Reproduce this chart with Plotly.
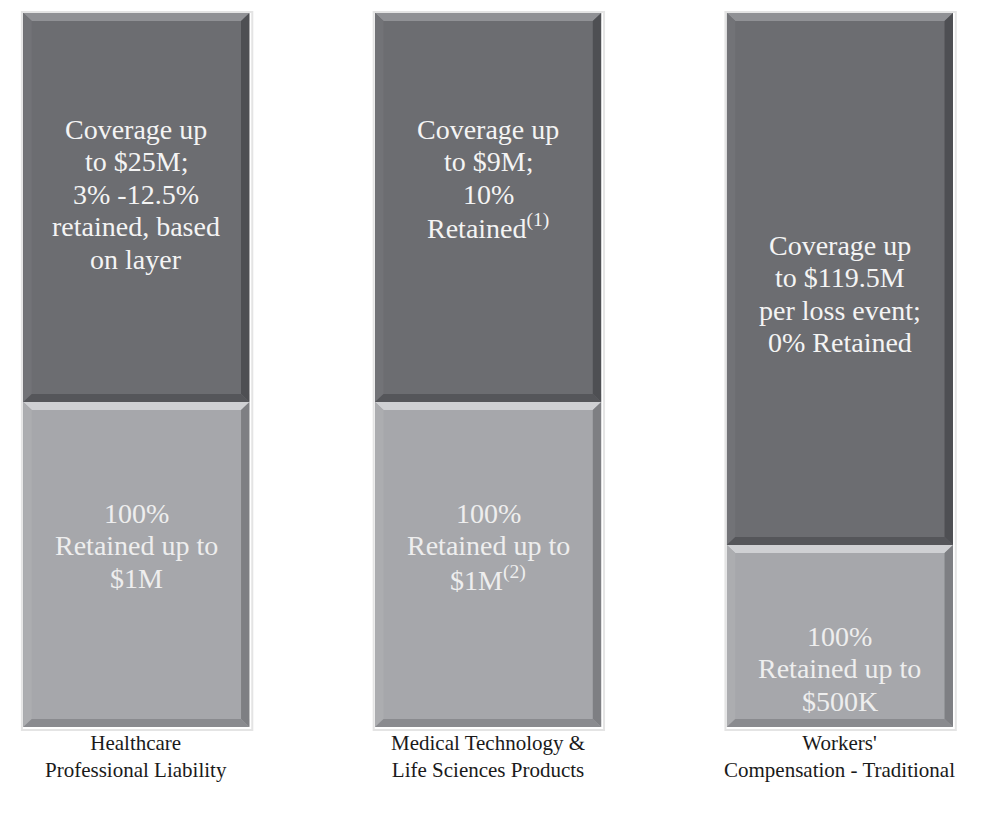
import plotly.graph_objects as go

# Three coverage programs, each drawn as a stacked column
categories = ["Healthcare<br>Professional Liability",
              "Medical Technology &<br>Life Sciences Products",
              "Workers'<br>Compensation - Traditional"]
retained_height = [325, 325, 182]   # lower (100% retained) layer
coverage_height = [389, 389, 532]   # upper (reinsured) layer

top_text = [
    "Coverage up<br>to $25M;<br>3% -12.5%<br>retained, based<br>on layer",
    "Coverage up<br>to $9M;<br>10%<br>Retained<sup>(1)</sup>",
    "Coverage up<br>to $119.5M<br>per loss event;<br>0% Retained",
]
bottom_text = [
    "100%<br>Retained up to<br>$1M",
    "100%<br>Retained up to<br>$1M<sup>(2)</sup>",
    "100%<br>Retained up to<br>$500K",
]

# where the first text line of each block sits (y of line centre)
top_text_y = [598, 598, 482]
bottom_text_y = [214, 214, 91]

DARK = "#6c6d71"
LIGHT = "#a6a7ab"
xs = list(range(len(categories)))
BAR_W = 0.643
LINE_H = 32.5
SERIF = "Liberation Serif"

fig = go.Figure()
fig.add_trace(go.Bar(x=xs, y=retained_height, width=BAR_W,
                     marker=dict(color=LIGHT, line=dict(width=0)), hoverinfo="skip"))
fig.add_trace(go.Bar(x=xs, y=coverage_height, width=BAR_W,
                     marker=dict(color=DARK, line=dict(width=0)), hoverinfo="skip"))

# bevel edges for each segment, built from the bar data
bx, by = 0.024, 8


def bevel(x0, x1, y0, y1, top, left, right, bottom):
    def poly(pts, c):
        d = "M " + " L ".join(f"{p[0]},{p[1]}" for p in pts) + " Z"
        return dict(type="path", path=d, fillcolor=c, line=dict(width=0),
                    xref="x", yref="y", layer="above")
    return [
        poly([(x0, y1), (x1, y1), (x1 - bx, y1 - by), (x0 + bx, y1 - by)], top),
        poly([(x0, y0), (x0, y1), (x0 + bx, y1 - by), (x0 + bx, y0 + by)], left),
        poly([(x1, y0), (x1, y1), (x1 - bx, y1 - by), (x1 - bx, y0 + by)], right),
        poly([(x0, y0), (x1, y0), (x1 - bx, y0 + by), (x0 + bx, y0 + by)], bottom),
    ]


shapes = []
for i in xs:
    x0, x1 = i - BAR_W / 2, i + BAR_W / 2
    r = retained_height[i]
    t = r + coverage_height[i]
    # soft shadow outline
    shapes.append(dict(type="rect", x0=x0 - 0.004, x1=x1 + 0.008, y0=-3, y1=t + 1,
                       xref="x", yref="y", layer="below",
                       fillcolor="rgba(0,0,0,0)", line=dict(color="#e4e4e4", width=2)))
    shapes += bevel(x0, x1, 0, r, "#cfd0d3", "#acadb0", "#7e7f83", "#8a8b8f")
    shapes += bevel(x0, x1, r, t, "#909195", "#727377", "#4e4f53", "#55565a")

annotations = []


def block(x, y, text, color, size):
    for k, line in enumerate(text.split("<br>")):
        annotations.append(dict(x=x, y=y, yshift=-k * LINE_H, text=line,
                                showarrow=False, xref="x", yref="y",
                                font=dict(family=SERIF, size=size, color=color)))


for i in xs:
    block(i, top_text_y[i], top_text[i], "#f4f4f4", 28)
    block(i, bottom_text_y[i], bottom_text[i], "#eeeeee", 28)
    # category name under the column
    annotations.append(dict(x=i, y=-29, text=categories[i], showarrow=False,
                            xref="x", yref="y", yanchor="middle",
                            font=dict(family=SERIF, size=21, color="#1a1a1a")))

# ranges allow for the 8px page margin around the figure
fig.update_layout(
    width=993, height=814,
    margin=dict(l=0, r=0, t=0, b=0),
    barmode="stack", showlegend=False,
    paper_bgcolor="white", plot_bgcolor="white",
    xaxis=dict(range=[-0.365, 2.458], visible=False, fixedrange=True),
    yaxis=dict(range=[-95, 719], visible=False, fixedrange=True),
    shapes=shapes, annotations=annotations,
)

fig.write_html("out.html")
